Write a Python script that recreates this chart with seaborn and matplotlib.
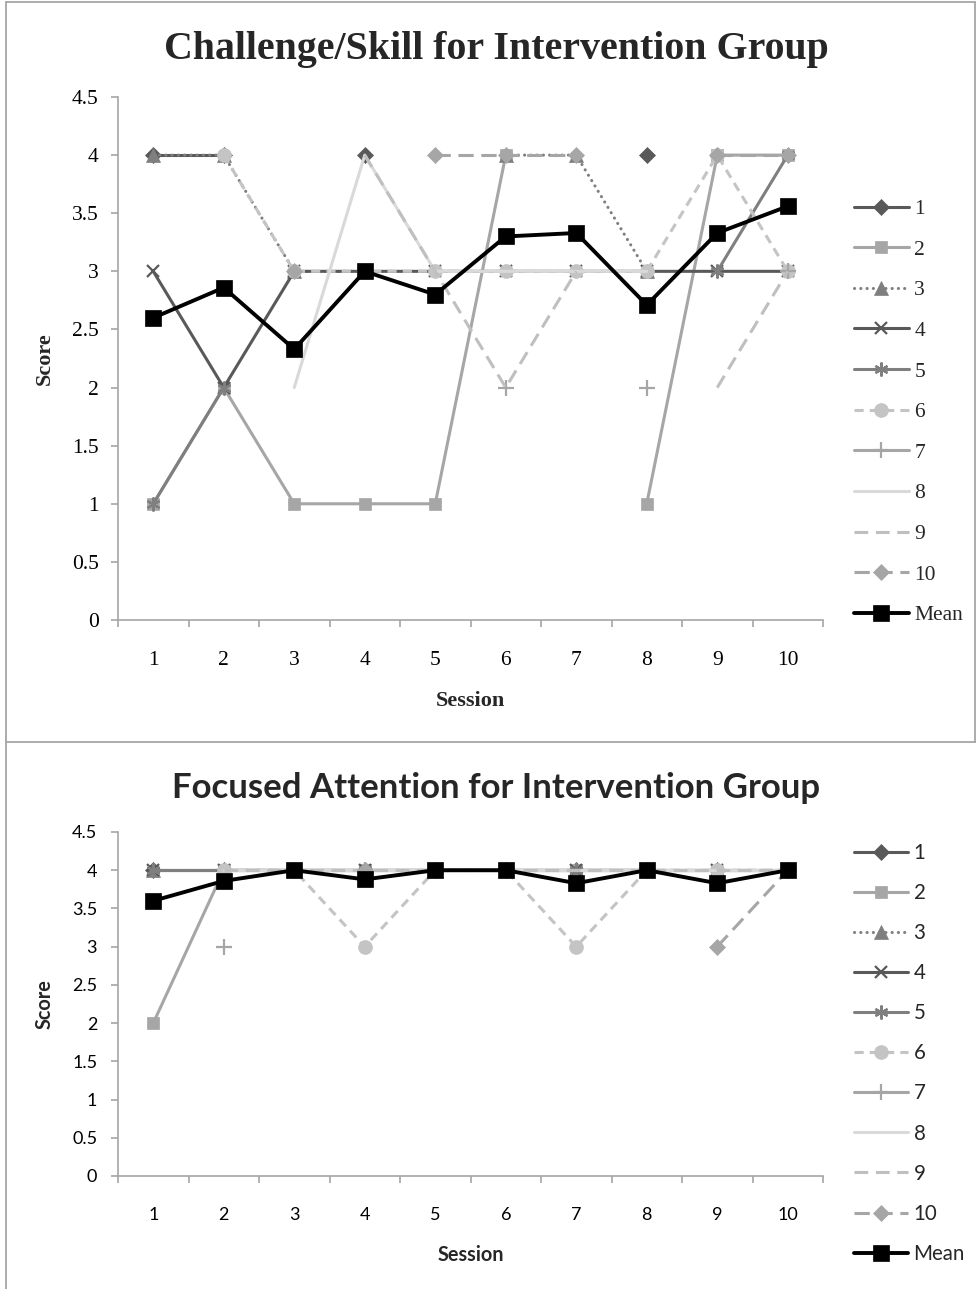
import numpy as np
import pandas as pd
import matplotlib
matplotlib.use("Agg")
import matplotlib.pyplot as plt
import seaborn as sns
from matplotlib.lines import Line2D
from matplotlib.ticker import FuncFormatter

nan = np.nan
sessions = [1, 2, 3, 4, 5, 6, 7, 8, 9, 10]
series_labels = ["1", "2", "3", "4", "5", "6", "7", "8", "9", "10"]
mean_label = "Mean"

# ---- Challenge/Skill (top) ----
cs_s1 = [4, 4, nan, 4, nan, nan, nan, 4, nan, nan]
cs_s2 = [1, 2, 1, 1, 1, 4, nan, 1, 4, 4]
cs_s3 = [4, 4, 3, 3, nan, 4, 4, 3, nan, nan]
cs_s4 = [3, 2, 3, 3, 3, 3, 3, 3, 3, 3]
cs_s5 = [1, 2, nan, nan, nan, nan, nan, nan, 3, 4]
cs_s6 = [nan, 4, 3, 3, 3, 3, 3, 3, 4, 3]
cs_s7 = [nan, nan, nan, nan, nan, 2, nan, 2, nan, 3]
cs_s8 = [nan, nan, 2, 4, 3, 3, 3, 3, nan, nan]
cs_s9 = [nan, nan, nan, 4, 3, 2, 3, nan, 2, 3]
cs_s10 = [nan, nan, 3, nan, 4, 4, 4, nan, 4, 4]
cs_mean = [2.6, 2.86, 2.33, 3.0, 2.8, 3.3, 3.33, 2.71, 3.33, 3.56]

# ---- Focused Attention (bottom) ----
fa_s1 = [4, 4, 4, 4, 4, 4, 4, 4, 4, 4]
fa_s2 = [2, 4, 4, 4, 4, 4, 4, 4, nan, 4]
fa_s3 = [4, 4, 4, 4, 4, 4, 4, 4, 4, 4]
fa_s4 = [4, 4, 4, 4, 4, 4, 4, 4, 4, 4]
fa_s5 = [4, 4, 4, 4, 4, 4, 4, 4, 4, 4]
fa_s6 = [nan, 4, 4, 3, 4, 4, 3, 4, 4, 4]
fa_s7 = [nan, 3, nan, 4, nan, nan, nan, nan, nan, nan]
fa_s8 = [nan, 4, 4, 4, 4, 4, 4, 4, 4, 4]
fa_s9 = [nan, 4, 4, 4, 4, 4, 4, 4, 4, 4]
fa_s10 = [nan, nan, nan, 4, nan, nan, nan, nan, 3, 4]
fa_mean = [3.6, 3.86, 4.0, 3.88, 4.0, 4.0, 3.83, 4.0, 3.83, 4.0]

cs_series = [cs_s1, cs_s2, cs_s3, cs_s4, cs_s5, cs_s6, cs_s7, cs_s8, cs_s9, cs_s10]
fa_series = [fa_s1, fa_s2, fa_s3, fa_s4, fa_s5, fa_s6, fa_s7, fa_s8, fa_s9, fa_s10]

# ---- styles ----
LW = 2.2
DOT = (0, (0.05, 2.0))
asterisk = (6, 2, 0)
styles = [
    dict(color="#595959", ls="-", marker="D", ms=8.5),
    dict(color="#a6a6a6", ls="-", marker="s", ms=9),
    dict(color="#7f7f7f", ls=DOT, marker="^", ms=10),
    dict(color="#595959", ls="-", marker="x", ms=9),
    dict(color="#7f7f7f", ls="-", marker=asterisk, ms=10),
    dict(color="#c4c4c4", ls=(0, (3, 2)), marker="o", ms=10),
    dict(color="#a6a6a6", ls="-", marker="+", ms=11),
    dict(color="#d9d9d9", ls="-", marker="", ms=0),
    dict(color="#bfbfbf", ls=(0, (4.5, 2.5)), marker="", ms=0),
    dict(color="#a6a6a6", ls=(0, (5, 2.5)), marker="D", ms=8.5),
]
mean_style = dict(color="black", ls="-", marker="s", ms=11)

sns.set_style("white")
W, H = 976, 1289
fig = plt.figure(figsize=(W / 100, H / 100), dpi=100)


def fx(px):
    return px / W


def fy(py):
    return 1 - py / H


def line_kws(st, lw):
    mew = 1.6 if st["marker"] in ("x", "+", asterisk) else 0.5
    return dict(color=st["color"], linestyle=st["ls"], lw=lw,
                marker=st["marker"] if st["marker"] else None,
                markersize=st["ms"], markeredgecolor=st["color"],
                markerfacecolor=st["color"], markeredgewidth=mew,
                dash_capstyle="round" if st["ls"] == DOT else "butt")


def draw_series(ax, y, st, lw, z):
    y = np.asarray(y, dtype=float)
    seg = np.cumsum(np.isnan(y))
    df = pd.DataFrame({"Session": sessions, "Score": y, "seg": seg}).dropna()
    sns.lineplot(data=df, x="Session", y="Score", units="seg", estimator=None,
                 sort=False, ax=ax, legend=False, zorder=z, **line_kws(st, lw))


def panel(ax_rect, series, mean, title, title_xy, family, title_size,
          tick_size, label_size, label_coords_y, ylab_x, xpad, ypad,
          legend_top, legend_size, legend_spacing, handlelen):
    ax = fig.add_axes(ax_rect)
    for i, (y, st) in enumerate(zip(series, styles)):
        draw_series(ax, y, st, LW, 2 + i * 0.1)
    draw_series(ax, mean, mean_style, 2.8, 5)

    ax.set_xlim(0.5, 10.5)
    ax.set_ylim(0, 4.5)
    ax.set_xticks(sessions)
    ax.set_xticks(np.arange(0.5, 11, 1), minor=True)
    ax.set_yticks(np.arange(0, 4.51, 0.5))
    ax.yaxis.set_major_formatter(FuncFormatter(lambda v, p: f"{v:g}"))
    ax.tick_params(axis="x", which="major", length=0, pad=xpad,
                   labelsize=tick_size, colors="black")
    ax.tick_params(axis="x", which="minor", length=5, width=1.2,
                   color="#a6a6a6", direction="out", bottom=True)
    ax.tick_params(axis="y", which="major", length=5, width=1.2,
                   color="#a6a6a6", direction="out", left=True, pad=ypad,
                   labelsize=tick_size, labelcolor="black")
    for lab in ax.get_xticklabels() + ax.get_yticklabels():
        lab.set_fontfamily(family)
    for s in ["top", "right"]:
        ax.spines[s].set_visible(False)
    for s in ["left", "bottom"]:
        ax.spines[s].set_color("#a6a6a6")
        ax.spines[s].set_linewidth(1.2)
    ax.grid(False)
    ax.set_xlabel("Session", fontsize=label_size, fontweight="bold", family=family)
    ax.set_ylabel("Score", fontsize=label_size, fontweight="bold", family=family)
    ax.xaxis.set_label_coords(0.5, label_coords_y)
    ax.yaxis.set_label_coords(ylab_x, 0.5)

    fig.text(title_xy[0], title_xy[1], title, ha="center", va="center",
             fontsize=title_size, fontweight="bold", family=family)

    handles = [Line2D([0], [0], **line_kws(st, LW)) for st in styles]
    handles.append(Line2D([0], [0], **line_kws(mean_style, 2.8)))
    labels = series_labels + [mean_label]
    fig.legend(handles, labels, loc="upper left",
               bbox_to_anchor=(fx(854), fy(legend_top)), frameon=False,
               borderpad=0, borderaxespad=0, handlelength=handlelen,
               handletextpad=0.25, labelspacing=legend_spacing,
               prop={"family": family, "size": legend_size})
    return ax


panel([fx(118), fy(620), fx(823) - fx(118), fy(97) - fy(620)],
      cs_series, cs_mean, "Challenge/Skill for Intervention Group",
      (fx(496), fy(50)), "Liberation Serif", 28.7,
      15.5, 16, -0.135, -0.09, 22, 9,
      199, 15.5, 0.955, 2.55)

panel([fx(118), fy(1176), fx(823) - fx(118), fy(832) - fy(1176)],
      fa_series, fa_mean, "Focused Attention for Intervention Group",
      (fx(496), fy(788)), "Lato", 25,
      13, 14.3, -0.2, -0.09, 22, 10,
      843, 14.8, 0.977, 2.65)

# panel frames
fc = "#a6a6a6"
for (x0, y0, x1, y1) in [(6, 2, 975, 2), (6, 2, 6, 1289), (975, 2, 975, 742),
                         (6, 742, 976, 742)]:
    fig.add_artist(Line2D([fx(x0), fx(x1)], [fy(y0), fy(y1)], color=fc,
                          lw=1.3, transform=fig.transFigure))

fig.savefig("out.png", dpi=100)
